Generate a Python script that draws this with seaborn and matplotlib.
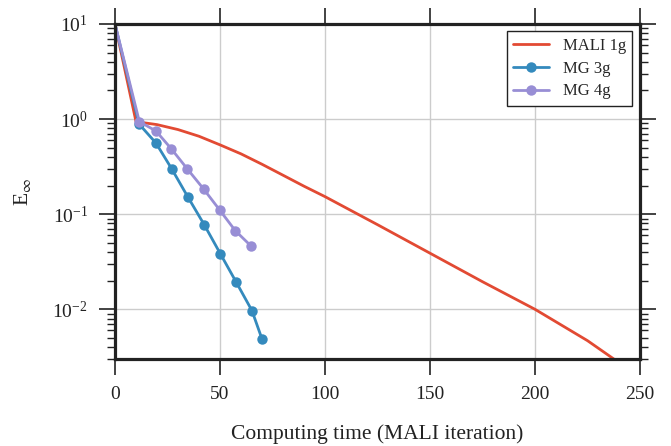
import matplotlib
matplotlib.use("Agg")
import pandas as pd
import seaborn as sns
import matplotlib.pyplot as plt

# values (x = MALI iterations, y = E_inf)
mali_x = [0, 10, 20, 30, 40, 50, 60, 70, 80, 90, 100, 125, 150, 175, 200, 225, 240]
mali_y = [10, 0.94, 0.875, 0.776, 0.66, 0.536, 0.431, 0.335, 0.257, 0.197, 0.153,
          0.0776, 0.0389, 0.0195, 0.010, 0.00468, 0.00275]

mg3_x = [0, 11.4, 19.5, 27.0, 34.6, 42.5, 50.1, 57.6, 65.2, 70.0]
mg3_y = [10, 0.89, 0.56, 0.30, 0.153, 0.0774, 0.0386, 0.0195, 0.0097, 0.00487]

mg4_x = [0, 11.6, 19.5, 26.7, 34.4, 42.2, 49.8, 57.3, 64.9]
mg4_y = [10, 0.94, 0.75, 0.49, 0.30, 0.184, 0.111, 0.067, 0.046]

labels = ["MALI 1g", "MG 3g", "MG 4g"]
colors = ["#E24A33", "#348ABD", "#988ED5"]

sns.set_theme(style="ticks")
plt.rcParams["font.family"] = ["Liberation Serif", "DejaVu Serif"]
plt.rcParams["mathtext.fontset"] = "stix"

fig = plt.figure(figsize=(6.71, 4.46), dpi=100)
ax = fig.add_axes([0.1714, 0.195, 0.7824, 0.7512])

series = [(mali_x, mali_y), (mg3_x, mg3_y), (mg4_x, mg4_y)]
for i, (xs, ys) in enumerate(series):
    df = pd.DataFrame({"x": xs, "y": ys})
    kw = {}
    if i > 0:
        kw = dict(marker="o", markersize=7.5, markeredgewidth=0,
                  markevery=list(range(1, len(xs))))
    sns.lineplot(data=df, x="x", y="y", ax=ax, color=colors[i],
                 linewidth=2.0, label=labels[i], **kw)

ax.set_yscale("log")
ax.set_xlim(0, 250)
ax.set_ylim(0.003, 10)
ax.set_xticks([0, 50, 100, 150, 200, 250])

ax.grid(True, which="major", color="#cccccc", linewidth=1.0)
ax.set_axisbelow(True)

for s in ax.spines.values():
    s.set_linewidth(2.3)
    s.set_color("#222222")

ax.tick_params(which="both", direction="out", top=True, right=True,
               colors="#222222", labelcolor="#222222")
ax.tick_params(which="major", length=11.5, width=1.2, labelsize=14, pad=8)
ax.tick_params(which="minor", length=5.5, width=1.0)
ax.tick_params(axis="x", which="minor", length=0)

ax.set_xlabel("Computing time (MALI iteration)", fontsize=15.5, labelpad=15,
              color="#222222")
ax.set_ylabel(r"E$_\infty$", fontsize=15.5, labelpad=14, color="#222222")

leg = ax.legend(loc="upper right", fontsize=12, frameon=True, fancybox=False,
                borderaxespad=0.45, handlelength=2.15, labelspacing=0.4)
leg.get_frame().set_edgecolor("#222222")
leg.get_frame().set_linewidth(1.0)
leg.get_frame().set_alpha(1)

fig.savefig("out.png", dpi=100)
